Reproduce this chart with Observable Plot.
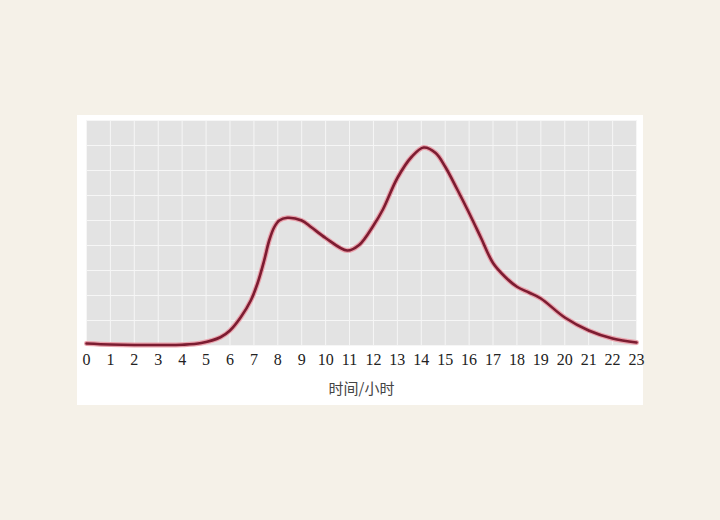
<!DOCTYPE html>
<html>
<head>
<meta charset="utf-8">
<script src="https://cdn.jsdelivr.net/npm/d3@7"></script>
<script src="https://cdn.jsdelivr.net/npm/@observablehq/plot@0.6"></script>
<style>
  html, body { margin: 0; padding: 0; background: #f5f1e8; width: 720px; height: 520px; overflow: hidden; }
  #panel { position: absolute; left: 77px; top: 115px; width: 566px; height: 290px; background: #ffffff; }
</style>
</head>
<body>
<div id="panel"></div>
<script>
// Hour of day (x) and relative value (y)
const hours  = [0, 1, 2, 3, 4, 4.8, 5.6, 6.0, 6.45, 6.87, 7.15, 7.43, 7.64, 7.85, 8.06, 8.4, 9, 9.4, 10, 10.9, 11.4, 12, 12.4, 13, 13.6, 14.1, 14.6, 15, 15.5, 16, 16.5, 17, 17.5, 18, 18.5, 19, 20, 21, 22, 23];
const values = [0.08, 0.04, 0.02, 0.02, 0.03, 0.1, 0.33, 0.6, 1.13, 1.8, 2.48, 3.4, 4.2, 4.73, 5.0, 5.11, 5.0, 4.73, 4.3, 3.8, 4.02, 4.8, 5.45, 6.7, 7.55, 7.92, 7.7, 7.15, 6.25, 5.3, 4.3, 3.3, 2.75, 2.35, 2.12, 1.88, 1.12, 0.6, 0.28, 0.12];
const xTicks = d3.range(0, 24);
const yGrid  = d3.range(0, 10);
const xLabel = "时间/小时";

const data = hours.map((h, i) => ({hour: h, value: values[i]}));

const chart = Plot.plot({
  width: 566,
  height: 290,
  marginLeft: 9,
  marginRight: 7,
  marginTop: 5,
  marginBottom: 60,
  style: { background: "transparent", overflow: "visible" },
  x: { domain: [0, 23] },
  y: { domain: [0, 9], axis: null },
  marks: [
    Plot.frame({ fill: "#e3e3e3", stroke: null }),
    Plot.ruleX(xTicks, { stroke: "#f6f6f6", strokeWidth: 1 }),
    Plot.ruleY(yGrid, { stroke: "#f6f6f6", strokeWidth: 1 }),
    Plot.line(data, { x: "hour", y: "value", curve: "catmull-rom", stroke: "#e9a2ac", strokeWidth: 5 }),
    Plot.line(data, { x: "hour", y: "value", curve: "catmull-rom", stroke: "#7c1c31", strokeWidth: 2.6 }),
    Plot.axisX(xTicks, { tickSize: 0, tickPadding: 8, fontSize: 16, fontFamily: "Liberation Serif", fill: "#222", label: null, tickFormat: d => String(d) }),
    Plot.text([xLabel], { frameAnchor: "bottom", dy: 48, fontSize: 15, fontFamily: "Noto Sans CJK SC", fill: "#444" })
  ]
});
document.getElementById("panel").appendChild(chart);
</script>
</body>
</html>
